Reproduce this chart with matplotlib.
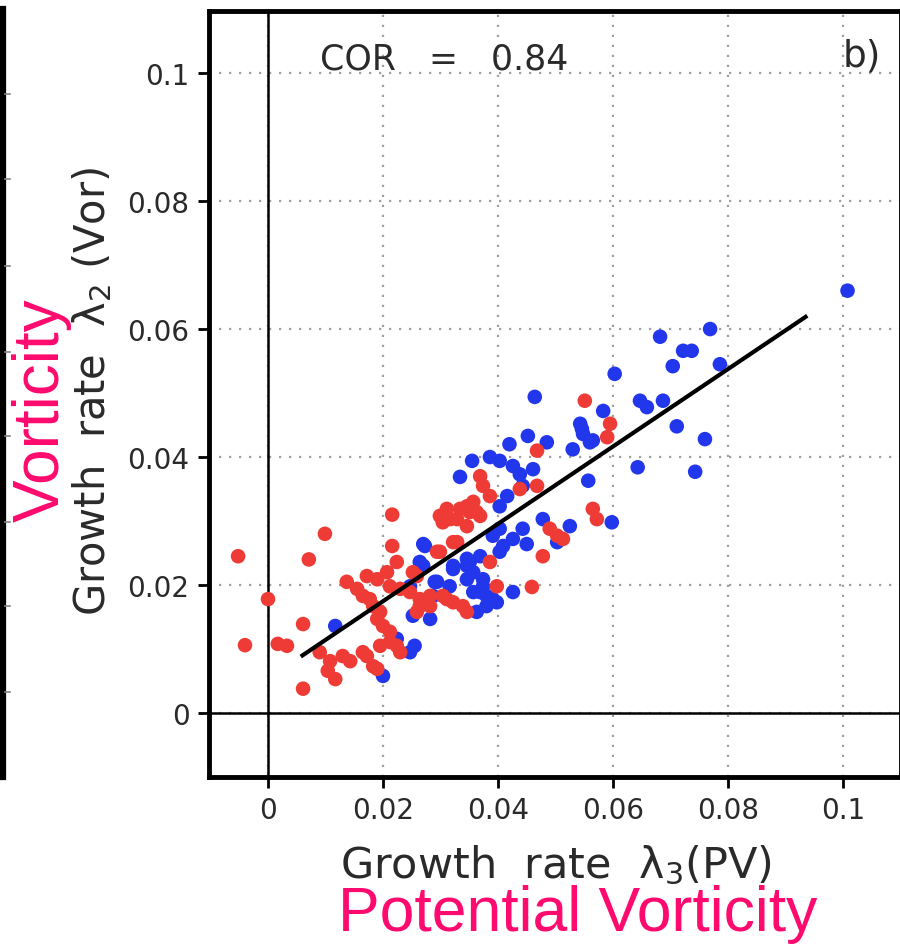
#%% Libs
import matplotlib.pyplot as plt
from matplotlib.lines import Line2D

#%% Dados
red_x = [-0.0052, 0.0099, 0.0071, 0.0216, 0.0, 0.0061, -0.004, 0.0017, 0.0033, 0.0061,
         0.009, 0.0108, 0.0104, 0.0117, 0.013, 0.0143, 0.0172, 0.0183, 0.019, 0.0195,
         0.0212, 0.019, 0.02, 0.0224, 0.0137, 0.0155, 0.0165, 0.0172, 0.019, 0.0207,
         0.0216, 0.0224, 0.0212, 0.0183, 0.0247, 0.0264, 0.0282, 0.0304, 0.0322, 0.0299,
         0.0317, 0.0329, 0.0259, 0.023,
         0.0369, 0.0374, 0.0386, 0.0357, 0.0468, 0.0468, 0.0438, 0.0311, 0.0334, 0.0351,
         0.0304, 0.0329, 0.0346, 0.0369, 0.0322, 0.0294, 0.049, 0.0503, 0.0513, 0.0478,
         0.0565, 0.0572, 0.0386, 0.0398, 0.0459, 0.0259, 0.0282, 0.0311, 0.0339, 0.0264,
         0.0551, 0.0595, 0.059,
         0.0177, 0.0195, 0.0212, 0.0165, 0.0299, 0.0346, 0.0363, 0.0252, 0.0346, 0.023]
red_y = [0.0245, 0.028, 0.024, 0.031, 0.0178, 0.0139, 0.0106, 0.0108, 0.0105, 0.0038,
         0.0095, 0.0081, 0.0066, 0.0053, 0.0089, 0.0081, 0.0089, 0.0073, 0.0069, 0.0105,
         0.0111, 0.0147, 0.0136, 0.0105, 0.0205, 0.0194, 0.0183, 0.0214, 0.0209, 0.022,
         0.0261, 0.0236, 0.0198, 0.0167, 0.0189, 0.0178, 0.0167, 0.0183, 0.0173, 0.0252,
         0.0303, 0.0267, 0.0158, 0.0095,
         0.037, 0.0355, 0.0339, 0.033, 0.0355, 0.041, 0.035, 0.0319, 0.0319, 0.0314,
         0.0298, 0.0303, 0.0292, 0.0308, 0.0267, 0.0252, 0.0288, 0.0277, 0.0272, 0.0245,
         0.0319, 0.0303, 0.0236, 0.0198, 0.0197, 0.0214, 0.0183, 0.0178, 0.0167, 0.0167,
         0.0488, 0.0452, 0.0431,
         0.0178, 0.0158, 0.0127, 0.0095, 0.0308, 0.0323, 0.0314, 0.022, 0.0158, 0.0194]

blue_x = [0.0117, 0.02, 0.0247, 0.0224, 0.027, 0.027, 0.0294, 0.0252, 0.0282, 0.0322,
          0.0452, 0.042, 0.0485, 0.053, 0.0546, 0.056, 0.0355, 0.0386, 0.0403, 0.0426,
          0.0334, 0.0438, 0.0461, 0.0443, 0.0416, 0.0403, 0.0557, 0.0478, 0.0525, 0.0503,
          0.0443, 0.0426, 0.045, 0.0403, 0.0391, 0.0273, 0.0264, 0.0322, 0.0346, 0.0369,
          0.0403, 0.0357, 0.0374, 0.0346, 0.029, 0.0369, 0.0391, 0.0426, 0.038, 0.0363,
          0.0247,
          0.0769, 0.0682, 0.0722, 0.0737, 0.0704, 0.0786, 0.0603, 0.0464, 0.0647, 0.0659,
          0.0687, 0.0583, 0.0543, 0.0548, 0.0711, 0.076, 0.0565, 0.0643, 0.0743,
          0.1008, 0.0598, 0.0255, 0.0287, 0.0316, 0.0346,
          0.0351, 0.0374, 0.038, 0.0398, 0.0357, 0.0409]
blue_y = [0.0136, 0.0058, 0.0095, 0.0116, 0.0264, 0.023, 0.0205, 0.0152, 0.0147, 0.023,
          0.0433, 0.042, 0.0423, 0.0412, 0.0444, 0.0423, 0.0394, 0.04, 0.0394, 0.0386,
          0.0369, 0.0373, 0.0381, 0.0355, 0.0339, 0.0323, 0.0363, 0.0303, 0.0292, 0.0267,
          0.0288, 0.0272, 0.0264, 0.0288, 0.0277, 0.0261, 0.0236, 0.0225, 0.0241, 0.0245,
          0.0252, 0.022, 0.0209, 0.0209, 0.0205, 0.0189, 0.0178, 0.0189, 0.0167, 0.0158,
          0.0198,
          0.06, 0.0588, 0.0566, 0.0566, 0.0542, 0.0545, 0.053, 0.0494, 0.0488, 0.0478,
          0.0488, 0.0472, 0.0452, 0.0436, 0.0448, 0.0428, 0.0426, 0.0384, 0.0377,
          0.066, 0.0298, 0.0105, 0.0183, 0.0198, 0.023,
          0.0236, 0.0198, 0.0183, 0.0173, 0.0189, 0.0261]

fit_x = [0.006, 0.0935]
fit_y = [0.009, 0.0619]

ticks = [0, 0.02, 0.04, 0.06, 0.08, 0.1]
tick_labels = ['0', '0.02', '0.04', '0.06', '0.08', '0.1']

#%% Figura
W, H = 900, 953
fx = lambda px: px / W
fy = lambda py: 1 - py / H

pink = '#FF0A6E'
red = '#EE3B36'
blue = '#2237EB'
txt = '#2a2a2a'

fig = plt.figure(figsize=(9, 9.53), dpi=100)
ax = fig.add_axes([fx(209), fy(778), fx(901) - fx(209), fy(12) - fy(778)])

ax.set_xlim(-0.01026, 0.1101)
ax.set_ylim(-0.01, 0.1097)

ax.set_xticks(ticks)
ax.set_xticklabels(tick_labels)
ax.set_yticks(ticks)
ax.set_yticklabels(tick_labels)
ax.tick_params(direction='out', length=8, width=2, labelsize=20, labelcolor=txt, pad=6)
ax.grid(True, color='#a0a0a0', linestyle=(0, (1, 3.5)), linewidth=1.6)
for s in ax.spines.values():
    s.set_linewidth(3.5)

ax.axhline(0, color='k', lw=1.8, zorder=2)
ax.axvline(0, color='k', lw=1.8, zorder=2)

ax.scatter(blue_x, blue_y, s=110, color=blue, edgecolors='none', zorder=3)
ax.scatter(red_x, red_y, s=110, color=red, edgecolors='none', zorder=4)
ax.plot(fit_x, fit_y, color='k', lw=3, zorder=5)

ax.text(0.009, 0.1022, 'COR   =   0.84', fontsize=25, color=txt, va='center', ha='left')
ax.text(0.1, 0.1027, 'b)', fontsize=27, color=txt, va='center', ha='left')

# rótulos dos eixos
fig.text(fx(556), fy(866), 'Growth  rate  λ$_3$(PV)', fontsize=31, color=txt,
         ha='center', va='center')
fig.text(fx(92), fy(392), 'Growth  rate  λ$_2$ (Vor)', fontsize=30, color=txt,
         ha='center', va='center', rotation=90)

fig.text(fx(578), fy(915), 'Potential Vorticity', fontsize=45, color=pink,
         family='Liberation Sans', ha='center', va='center')
fig.text(fx(42), fy(410), 'Vorticity', fontsize=46, color=pink,
         family='Liberation Sans', ha='center', va='center', rotation=90)

# pedaço do painel vizinho à esquerda
fig.add_artist(Line2D([fx(3), fx(3)], [fy(10), fy(778)], color='k', lw=4.5))
for py in [95, 180, 267, 353, 437, 523, 607, 693]:
    fig.add_artist(Line2D([fx(5), fx(10)], [fy(py), fy(py)], color='#888', lw=1.2))

fig.savefig('out.png', dpi=100)
